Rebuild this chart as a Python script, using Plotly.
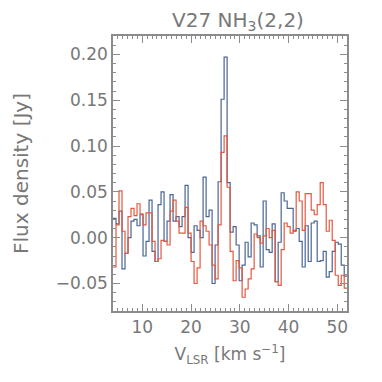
import numpy as np
import plotly.graph_objects as go

# spectral axis (channel grid, km/s)
vel_start = 4.0
chan_width = 0.616

# V27 NH3(2,2) spectra, Jy per channel
flux_blue = [
    0.021, 0.015, 0.029, -0.034, -0.017, 0.000, 0.018, 0.020, 0.013, 0.025,
    -0.020, -0.004, 0.041, -0.015, -0.026, 0.036, 0.050, -0.004, 0.018, 0.047,
    0.018, 0.023, 0.012, 0.023, 0.057, 0.000, -0.016, 0.013, 0.008, 0.000,
    0.066, 0.023, 0.030, -0.050, -0.008, 0.061, 0.151, 0.197, 0.060, 0.006,
    0.012, -0.008, -0.047, -0.030, -0.005, -0.021, 0.016, 0.014, 0.002, -0.032,
    0.040, -0.013, -0.016, 0.015, -0.048, -0.005, 0.049, 0.040, 0.032, 0.032,
    0.007, 0.010, -0.004, -0.032, 0.013, -0.026, 0.016, 0.018, -0.026, -0.025,
    -0.015, -0.043, -0.037, -0.015, -0.005, -0.007, -0.030, -0.042,
]
flux_red = [
    -0.032, 0.014, 0.051, 0.007, -0.017, 0.023, 0.032, 0.024, 0.037, 0.026,
    0.014, 0.027, 0.027, -0.004, -0.026, -0.023, -0.003, -0.004, -0.008, 0.029,
    0.041, 0.018, 0.005, 0.005, 0.033, 0.005, -0.026, -0.050, -0.033, 0.018,
    0.013, 0.007, -0.008, -0.030, -0.045, 0.014, 0.093, 0.111, 0.055, -0.015,
    -0.047, -0.025, -0.033, -0.065, -0.056, -0.045, -0.034, 0.004, 0.000, -0.006,
    0.002, 0.010, 0.000, 0.008, -0.048, -0.052, -0.013, 0.016, 0.012, 0.005,
    0.008, 0.050, 0.040, 0.008, 0.048, 0.048, 0.030, 0.025, 0.036, 0.060,
    0.036, 0.007, 0.019, -0.003, -0.041, -0.052, -0.041, -0.055,
]

x_ticks = [10, 20, 30, 40, 50]
y_ticks = [-0.05, 0.00, 0.05, 0.10, 0.15, 0.20]

AXIS_COL = "#8c8c8c"
TEXT_COL = "#787878"
FONT = "DejaVu Sans"


def step_xy(values):
    # left channel edges + closing edge so the last channel is drawn in full
    n = len(values)
    edges = vel_start + chan_width * np.arange(n + 1)
    return edges, list(values) + [values[-1]]


fig = go.Figure()

for vals, col in [(flux_blue, "#4a6595"), (flux_red, "#e4583e")]:
    xs, ys = step_xy(vals)
    fig.add_trace(
        go.Scatter(
            x=xs,
            y=ys,
            mode="lines",
            line=dict(color=col, width=1.2, shape="hv"),
            showlegend=False,
        )
    )

axis_common = dict(
    showgrid=False,
    zeroline=False,
    showline=True,
    linecolor=AXIS_COL,
    linewidth=1.5,
    mirror="ticks",
    ticks="inside",
    tickcolor=AXIS_COL,
    tickwidth=1,
    ticklen=7,
    automargin=False,
    tickfont=dict(family=FONT, size=17, color=TEXT_COL),
)

# page body has an 8px margin, so the figure is 374 px and offsets are trimmed
fig.update_layout(
    width=374,
    height=374,
    paper_bgcolor="white",
    plot_bgcolor="white",
    margin=dict(l=105, r=35, t=28, b=71),
    title=dict(
        text="V27 NH<sub>3</sub>(2,2)",
        x=0.615,
        xanchor="center",
        y=0.969,
        yanchor="middle",
        font=dict(family=FONT, size=20, color=TEXT_COL),
    ),
    xaxis=dict(
        range=[4, 52],
        tickvals=x_ticks,
        minor=dict(dtick=1, ticklen=3, ticks="inside", tickcolor=AXIS_COL),
        title=dict(
            text="V<sub>LSR</sub> [km s<sup>−1</sup>]",
            font=dict(family=FONT, size=17, color=TEXT_COL),
            standoff=12,
        ),
        **axis_common,
    ),
    yaxis=dict(
        range=[-0.08, 0.22],
        tickvals=y_ticks,
        tickformat=".2f",
        minor=dict(dtick=0.01, ticklen=3, ticks="inside", tickcolor=AXIS_COL),
        title=dict(
            text="Flux density [Jy]",
            font=dict(family=FONT, size=20, color=TEXT_COL),
            standoff=22,
        ),
        **axis_common,
    ),
)

fig.write_html("out.html")
